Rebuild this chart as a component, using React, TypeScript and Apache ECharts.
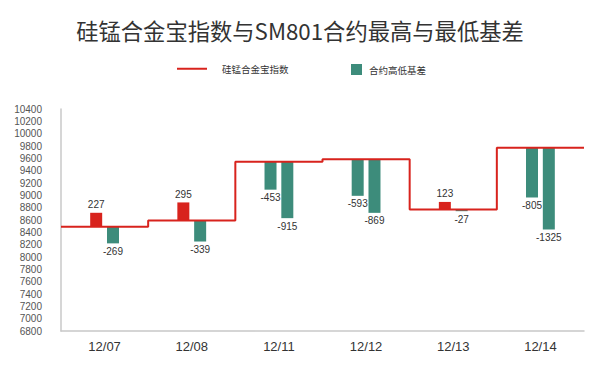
import React, { useEffect, useRef } from "react";
import * as echarts from "echarts";

const categories = ["12/07", "12/08", "12/11", "12/12", "12/13", "12/14"];
const indexValues = [8490, 8590, 9545, 9585, 8770, 9770];
const basisFirst = [227, 295, -453, -593, 123, -805];
const basisSecond = [-269, -339, -915, -869, -27, -1325];
const yTickMin = 6800;
const yTickMax = 10400;
const yTickStep = 200;

const RED = "#d8231d";
const GREEN = "#3d8c7b";
const FONT = "'Noto Sans CJK SC', 'Noto Sans', sans-serif";
const NUMFONT = "'Liberation Sans', Arial, 'Noto Sans CJK SC', sans-serif";

function baseOf(values: number[]) {
  return values.map((v, i) => Math.min(indexValues[i], indexValues[i] + v));
}
function visibleOf(values: number[]) {
  return values.map((v) => ({
    value: Math.abs(v),
    itemStyle: { color: v >= 0 ? RED : GREEN },
    label: {
      show: true,
      position: v >= 0 ? "top" : "bottom",
      formatter: String(v),
      distance: 3,
    },
  }));
}

export default function App() {
  const ref = useRef<HTMLDivElement>(null);
  useEffect(() => {
    if (!ref.current) return;
    const chart = echarts.init(ref.current, null, { renderer: "svg" });
    const stepData: number[][] = indexValues.map((v, i) => [i, v]);
    stepData.push([indexValues.length, indexValues[indexValues.length - 1]]);
    const barCommon = { type: "bar", barWidth: 12, barGap: "40%" };
    chart.setOption({
      animation: false,
      backgroundColor: "#fff",
      textStyle: { fontFamily: FONT },
      title: {
        text: "硅锰合金宝指数与SM801合约最高与最低基差",
        left: "center",
        top: 6,
        textStyle: { fontSize: 22.3, fontWeight: "normal", color: "#333", fontFamily: FONT },
      },
      legend: [
        {
          left: 164,
          top: 51,
          itemWidth: 30,
          itemHeight: 2,
          data: [{ name: "硅锰合金宝指数", icon: "rect" }],
          textStyle: { fontSize: 9.5, color: "#333", padding: [0, 0, 0, 10] },
        },
        {
          left: 338,
          top: 51,
          itemWidth: 11,
          itemHeight: 11,
          data: [{ name: "合约高低基差", icon: "rect" }],
          textStyle: { fontSize: 9.5, color: "#333", padding: [0, 0, 0, 2] },
        },
      ],
      grid: { left: 53, right: 8, top: 101, bottom: 34 },
      xAxis: [
        {
          type: "category",
          data: categories,
          axisLine: { show: true, lineStyle: { color: "#c8c8c8", width: 1.5 } },
          axisTick: { show: false },
          axisLabel: { fontSize: 13, color: "#333", margin: 9, fontFamily: NUMFONT },
        },
        {
          type: "value",
          min: 0,
          max: categories.length,
          show: false,
        },
      ],
      yAxis: {
        type: "value",
        min: yTickMin,
        max: yTickMax,
        interval: yTickStep,
        offset: 14,
        axisLine: { show: true, lineStyle: { color: "#c8c8c8", width: 1.5 } },
        axisTick: { show: false },
        splitLine: { show: false },
        axisLabel: {
          fontSize: 10,
          color: "#555",
          margin: 5,
          fontFamily: NUMFONT,
          formatter: (v: number) => String(v),
        },
      },
      series: [
        {
          ...barCommon,
          name: "base1",
          stack: "a",
          silent: true,
          itemStyle: { color: "transparent" },
          data: baseOf(basisFirst),
        },
        {
          ...barCommon,
          name: "合约高低基差",
          stack: "a",
          itemStyle: { color: GREEN },
          label: { fontSize: 10, color: "#333", fontFamily: NUMFONT },
          data: visibleOf(basisFirst),
        },
        {
          ...barCommon,
          name: "base2",
          stack: "b",
          silent: true,
          itemStyle: { color: "transparent" },
          data: baseOf(basisSecond),
        },
        {
          ...barCommon,
          name: "合约高低基差",
          stack: "b",
          itemStyle: { color: GREEN },
          label: { fontSize: 10, color: "#333", fontFamily: NUMFONT },
          data: visibleOf(basisSecond),
        },
        {
          type: "line",
          name: "硅锰合金宝指数",
          xAxisIndex: 1,
          step: "end",
          symbol: "none",
          lineStyle: { color: RED, width: 2 },
          itemStyle: { color: RED },
          data: stepData,
          z: 3,
        },
      ],
    });
    return () => chart.dispose();
  }, []);
  return <div ref={ref} style={{ width: 584, height: 357 }} />;
}
